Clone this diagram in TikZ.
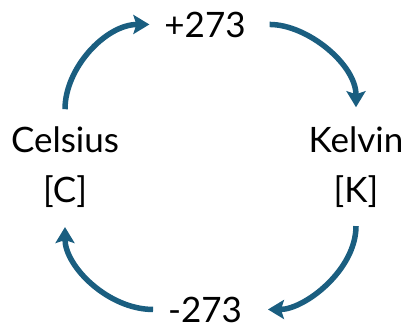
\documentclass[tikz,border=0pt]{standalone}
\usepackage{fontspec}
\setmainfont{Lato}
\usetikzlibrary{arrows.meta}
\definecolor{arrowblue}{RGB}{26,94,128}
\tikzset{
  lbl/.style={inner sep=0pt, outer sep=0pt, anchor=base, font=\fontsize{35}{40}\selectfont},
  cyc/.style={draw=arrowblue, line width=5.5pt, looseness=1.05, -{Stealth[length=16pt,width=19pt,inset=3pt]}}
}
\begin{document}
\begin{tikzpicture}[x=1pt,y=-1pt]
\useasboundingbox (0,0) rectangle (412,324);
\node[lbl] (plus) at (205,37) {+273};
\node[lbl] (minus) at (205,322) {-273};
\node[lbl] (cel) at (65,152) {Celsius};
\node[lbl] (celu) at (65,202) {[C]};
\node[lbl] (kel) at (356,152) {Kelvin};
\node[lbl] (kelu) at (356,202) {[K]};
\draw[cyc, shorten <=17pt, shorten >=15pt] (cel.north) to[out=90,in=180] (plus.west);
\draw[cyc, shorten <=24pt, shorten >=19pt] (plus.east) to[out=0,in=90] (kel.north);
\draw[cyc, shorten <=19pt, shorten >=26pt] (kelu.south) to[out=-90,in=0] (minus.east);
\draw[cyc, shorten <=15pt, shorten >=20pt] (minus.west) to[out=180,in=-90] (celu.south);
\end{tikzpicture}
\end{document}
